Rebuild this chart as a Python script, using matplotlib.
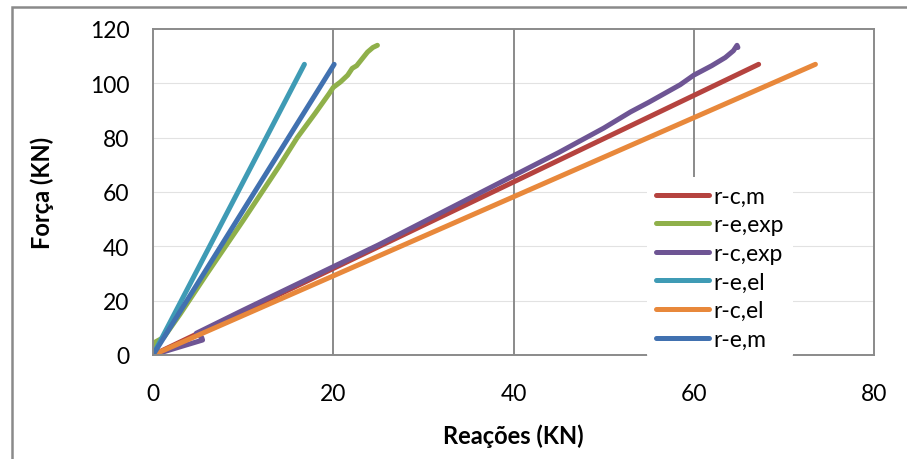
import numpy as np
import matplotlib
matplotlib.use("Agg")
import matplotlib.pyplot as plt
from matplotlib.patches import Rectangle

plt.rcParams["font.family"] = ["Lato", "DejaVu Sans"]

# series
rcm_x = [0, 67.2]
rcm_y = [0, 107]

rexp_x = [0, 0.1, 1.2, 3, 6, 10, 14, 16, 18, 19.5, 20, 20.8, 21.6, 22.1, 22.6, 23.2, 23.8, 24.4, 24.9]
rexp_y = [0, 4.5, 6.5, 15, 30, 49.5, 69.5, 80, 89, 96, 98.5, 100.5, 103, 105.5, 106.5, 109, 111.5, 113.2, 114]

rcexp_x = [0, 2.5, 5.5, 5.4, 4.8, 10, 15, 20, 25, 30, 35, 40, 45, 50, 53, 55, 58.5, 60, 62, 63.5, 64.4, 64.8, 64.9]
rcexp_y = [0, 2.5, 5.5, 6.5, 8, 16.5, 24.5, 32.5, 40.5, 49, 57.5, 66, 74.5, 83.5, 89.5, 93, 99.5, 103, 106.5, 109.5, 112, 114, 113.2]

reel_x = [0, 16.8]
reel_y = [0, 107]

rcel_x = [0, 73.5]
rcel_y = [0, 107]

rem_x = [0, 20.1]
rem_y = [0, 107]

labels = ["r-c,m", "r-e,exp", "r-c,exp", "r-e,el", "r-c,el", "r-e,m"]
colors = ["#b5433f", "#8fb04a", "#6e5594", "#3f9bb5", "#e8883b", "#4171b0"]
xs = [rcm_x, rexp_x, rcexp_x, reel_x, rcel_x, rem_x]
ys = [rcm_y, rexp_y, rcexp_y, reel_y, rcel_y, rem_y]

xticks = [0, 20, 40, 60, 80]
yticks = [0, 20, 40, 60, 80, 100, 120]

fig = plt.figure(figsize=(9.07, 4.6), dpi=100)
fig.patches.append(Rectangle((12 / 907, -0.1), 1.2, 1 - 8 / 460 + 0.1, transform=fig.transFigure,
                             fill=False, edgecolor="#8a8a8a", linewidth=1.8, zorder=0))

ax = fig.add_axes([153 / 907, 1 - 356 / 460, 721 / 907, 326 / 460])

for yv in yticks[1:-1]:
    ax.axhline(yv, color="#e2e2e2", linewidth=0.8, zorder=0)
for xv in xticks[1:-1]:
    ax.axvline(xv, color="#8a8a8a", linewidth=1.4, zorder=0)

for x, y, c, lab in zip(xs, ys, colors, labels):
    ax.plot(x, y, color=c, linewidth=3.6, label=lab, solid_capstyle="round", solid_joinstyle="round")

ax.set_xlim(0, 80)
ax.set_ylim(0, 120)
ax.set_xticks(xticks)
ax.set_yticks(yticks)
ax.tick_params(length=0, labelsize=16.5)
ax.tick_params(axis="y", pad=17)
ax.tick_params(axis="x", pad=20)
for s in ax.spines.values():
    s.set_color("#8a8a8a")
    s.set_linewidth(1.4)

ax.set_xlabel("Reações (KN)", fontsize=17, fontweight="bold", labelpad=14)
ax.set_ylabel("Força (KN)", fontsize=17, fontweight="bold", labelpad=26)

leg = ax.legend(loc="center left", bbox_to_anchor=(0.685, 0.268), frameon=True, fontsize=16.5,
                handlelength=2.3, handletextpad=0.2, labelspacing=0.33, borderaxespad=0, borderpad=0.4)
leg.get_frame().set_edgecolor("none")
leg.get_frame().set_facecolor("white")
leg.get_frame().set_alpha(1)

fig.savefig("out.png", dpi=100)
